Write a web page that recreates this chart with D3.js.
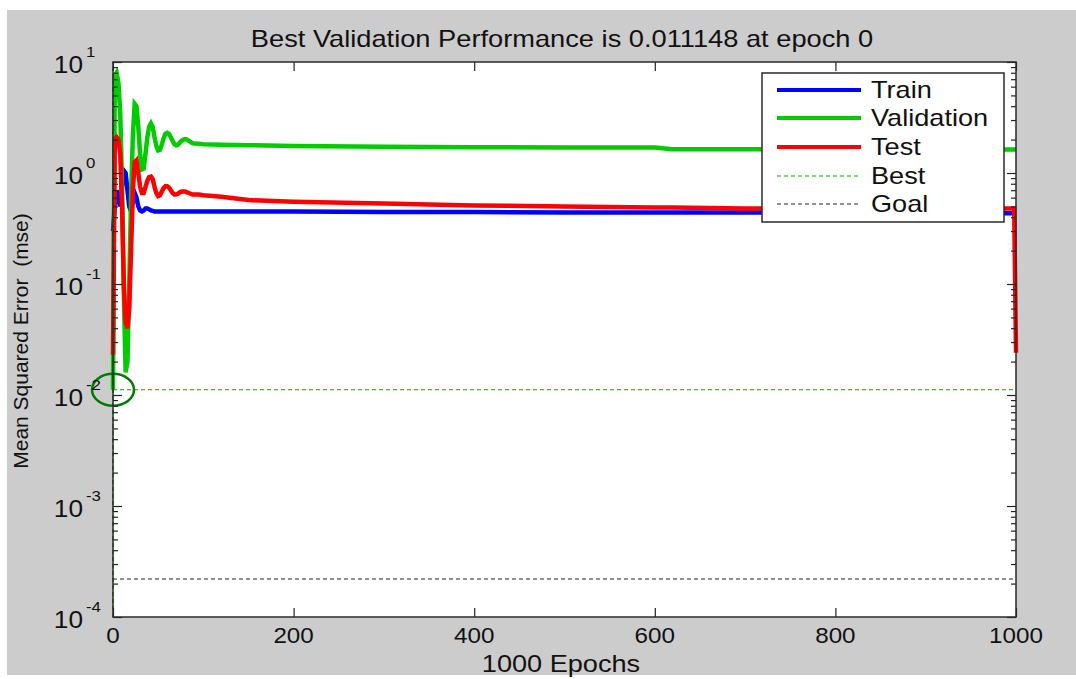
<html>
<head>
    <meta charset="utf-8">
    <script src="https://d3js.org/d3.v7.min.js"></script>
    <style>
        body { margin: 0; background: #ffffff; }
        text { font-family: "Liberation Sans", Arial, sans-serif; fill: #111; white-space: pre; }
        .tick line { stroke: #222; }
        .domain { stroke: none; }
    </style>
</head>
<body>
<svg id="chart" width="1076" height="679"></svg>
<script>
const epochs = [0, 2, 4, 6, 8, 10, 12, 14, 16, 18, 20, 22, 24, 26, 28, 30, 32, 34, 36, 38,
                40, 42, 44, 46, 48, 50, 52, 54, 56, 58, 60, 62, 64, 66, 68, 70, 72, 74, 76, 78,
                80, 82, 84, 86, 88, 90, 95, 100, 120, 150, 200, 300, 400, 500, 600, 620, 700,
                800, 900, 998, 999, 1000];

const trainMse = [0.3, 0.5, 0.7, 0.6, 0.5, 0.75, 1.05, 1.0, 0.7, 0.5, 0.45, 0.55, 0.66, 0.6, 0.5, 0.46, 0.45, 0.46, 0.48, 0.48,
                  0.47, 0.46, 0.455, 0.45, 0.45, 0.45, 0.45, 0.45, 0.45, 0.45, 0.45, 0.45, 0.45, 0.45, 0.45, 0.45, 0.45, 0.45, 0.45, 0.45,
                  0.45, 0.45, 0.45, 0.45, 0.45, 0.45, 0.45, 0.45, 0.45, 0.45, 0.45, 0.445, 0.445, 0.44, 0.44, 0.44, 0.44,
                  0.44, 0.435, 0.435, 0.435, 0.435];

const valMse = [0.011148, 7.5, 8.0, 6.5, 3.5, 0.8, 0.08, 0.016, 0.02, 0.1, 0.6, 2.2, 4.2, 4.0, 2.6, 1.5, 1.08, 1.1, 1.5, 2.1,
                2.6, 2.8, 2.6, 2.1, 1.75, 1.6, 1.62, 1.8, 2.05, 2.25, 2.3, 2.25, 2.1, 1.95, 1.82, 1.78, 1.8, 1.88, 1.95, 2.0,
                2.02, 2.0, 1.95, 1.9, 1.86, 1.84, 1.83, 1.82, 1.8, 1.78, 1.75, 1.72, 1.71, 1.7, 1.7, 1.64, 1.64,
                1.63, 1.63, 1.63, 1.63, 1.63];

const testMse = [0.023, 2.0, 2.1, 2.0, 1.5, 0.5, 0.1, 0.045, 0.04, 0.06, 0.2, 0.7, 1.25, 1.3, 1.0, 0.75, 0.66, 0.66, 0.75, 0.85,
                 0.92, 0.93, 0.88, 0.75, 0.66, 0.62, 0.63, 0.68, 0.73, 0.76, 0.76, 0.74, 0.7, 0.66, 0.64, 0.64, 0.65, 0.67, 0.68, 0.68,
                 0.68, 0.67, 0.66, 0.65, 0.64, 0.64, 0.64, 0.63, 0.61, 0.57, 0.55, 0.53, 0.51, 0.5, 0.49, 0.49, 0.48,
                 0.48, 0.48, 0.48, 0.11, 0.024];

const bestEpoch = 0;
const bestValue = 0.011148;
const goalValue = 0.00022;

const xTicks = [0, 200, 400, 600, 800, 1000];
const yExponents = [1, 0, -1, -2, -3, -4];
const legendNames = ["Train", "Validation", "Test", "Best", "Goal"];

const svg = d3.select("svg#chart");
const plot = {left: 113, right: 1016, top: 62, bottom: 617};

svg.append("rect")
   .attr("x", 7).attr("y", 10)
   .attr("width", 1069).attr("height", 665)
   .attr("fill", "#cccccc");

svg.append("rect")
   .attr("x", plot.left).attr("y", plot.top)
   .attr("width", plot.right - plot.left).attr("height", plot.bottom - plot.top)
   .attr("fill", "#ffffff");

const xScale = d3.scaleLinear().domain([0, 1000]).range([plot.left, plot.right]);
const yScale = d3.scaleLog().domain([1e-4, 10]).range([plot.bottom, plot.top]);

// curves
const series = [
    {values: trainMse, color: "#0000ff"},
    {values: valMse, color: "#00cc00"},
    {values: testMse, color: "#ff0000"}
];
const line = d3.line()
               .x(d => xScale(d[0]))
               .y(d => yScale(d[1]));

series.forEach(s => {
    svg.append("path")
       .datum(epochs.map((e, i) => [e, s.values[i]]))
       .attr("d", line)
       .attr("fill", "none")
       .attr("stroke", s.color)
       .attr("stroke-width", 4.5)
       .attr("stroke-linejoin", "miter");
});

// best and goal lines
svg.append("line")
   .attr("x1", xScale(0)).attr("x2", xScale(1000))
   .attr("y1", yScale(bestValue)).attr("y2", yScale(bestValue))
   .attr("stroke", "#00aa00").attr("stroke-width", 1.2)
   .attr("stroke-dasharray", "4,3");
svg.append("line")
   .attr("x1", xScale(bestEpoch)).attr("x2", xScale(bestEpoch))
   .attr("y1", yScale(1e-4)).attr("y2", yScale(10))
   .attr("stroke", "#00aa00").attr("stroke-width", 1.5)
   .attr("stroke-dasharray", "4,3");
svg.append("line")
   .attr("x1", xScale(0)).attr("x2", xScale(1000))
   .attr("y1", yScale(goalValue)).attr("y2", yScale(goalValue))
   .attr("stroke", "#222").attr("stroke-width", 1.2)
   .attr("stroke-dasharray", "4,3");

svg.append("ellipse")
   .attr("cx", xScale(bestEpoch)).attr("cy", yScale(bestValue))
   .attr("rx", 21).attr("ry", 16)
   .attr("fill", "none")
   .attr("stroke", "#007a00")
   .attr("stroke-width", 2.5);

// ticks, all pointing inwards
const majors = yExponents.map(e => Math.pow(10, e));
const minors = yScale.ticks().filter(v => Math.abs(Math.log10(v) - Math.round(Math.log10(v))) > 1e-6);

svg.append("g")
   .attr("transform", `translate(${plot.left},0)`)
   .call(d3.axisLeft(yScale).tickValues(majors).tickSize(-9).tickFormat(""));
svg.append("g")
   .attr("transform", `translate(${plot.left},0)`)
   .call(d3.axisLeft(yScale).tickValues(minors).tickSize(-5).tickFormat(""));
svg.append("g")
   .attr("transform", `translate(${plot.right},0)`)
   .call(d3.axisRight(yScale).tickValues(majors).tickSize(-9).tickFormat(""));
svg.append("g")
   .attr("transform", `translate(${plot.right},0)`)
   .call(d3.axisRight(yScale).tickValues(minors).tickSize(-5).tickFormat(""));
svg.append("g")
   .attr("transform", `translate(0,${plot.bottom})`)
   .call(d3.axisBottom(xScale).tickValues(xTicks).tickSize(-9).tickFormat(""));
svg.append("g")
   .attr("transform", `translate(0,${plot.top})`)
   .call(d3.axisTop(xScale).tickValues(xTicks).tickSize(-9).tickFormat(""));

svg.selectAll(".tick line").attr("stroke-width", 1.2);

svg.append("rect")
   .attr("x", plot.left).attr("y", plot.top)
   .attr("width", plot.right - plot.left).attr("height", plot.bottom - plot.top)
   .attr("fill", "none")
   .attr("stroke", "#2a2a2a")
   .attr("stroke-width", 1.5);

// tick labels
xTicks.forEach(t => {
    svg.append("text")
       .attr("transform", `translate(${xScale(t)},643) scale(1.1,1)`)
       .attr("text-anchor", "middle")
       .style("font-size", "22px")
       .text(t);
});

yExponents.forEach(e => {
    let yy = yScale(Math.pow(10, e));
    svg.append("text")
       .attr("transform", `translate(83,${yy + 11}) scale(1.14,1)`)
       .attr("text-anchor", "end")
       .style("font-size", "23px")
       .text("10");
    svg.append("text")
       .attr("transform", `translate(86,${yy - 5}) scale(1.12,1)`)
       .style("font-size", "15px")
       .text(e < 0 ? "-" + Math.abs(e) : e);
});

// titles
svg.append("text")
   .attr("transform", `translate(562,47) scale(1.185,1)`)
   .attr("text-anchor", "middle")
   .style("font-size", "23px")
   .text("Best Validation Performance is 0.011148 at epoch 0");

svg.append("text")
   .attr("transform", `translate(561,672) scale(1.18,1)`)
   .attr("text-anchor", "middle")
   .style("font-size", "23px")
   .text("1000 Epochs");

svg.append("text")
   .attr("transform", `translate(28,341) rotate(-90)`)
   .attr("text-anchor", "middle")
   .style("font-size", "21px")
   .text("Mean Squared Error  (mse)");

// legend
const legend = svg.append("g");
legend.append("rect")
      .attr("x", 762).attr("y", 73)
      .attr("width", 242).attr("height", 149)
      .attr("fill", "#ffffff")
      .attr("stroke", "#2a2a2a")
      .attr("stroke-width", 1.5);

const legendStyle = [
    {color: "#0000ff", width: 4, dash: null},
    {color: "#00cc00", width: 4, dash: null},
    {color: "#ff0000", width: 4, dash: null},
    {color: "#00aa00", width: 1.2, dash: "4,3"},
    {color: "#222", width: 1.2, dash: "4,3"}
];
const legendY = [90, 118, 147, 176, 204];

legendNames.forEach((name, i) => {
    legend.append("line")
          .attr("x1", 777).attr("x2", 861)
          .attr("y1", legendY[i]).attr("y2", legendY[i])
          .attr("stroke", legendStyle[i].color)
          .attr("stroke-width", legendStyle[i].width)
          .attr("stroke-dasharray", legendStyle[i].dash);
    legend.append("text")
          .attr("transform", `translate(871,${legendY[i] + 8}) scale(1.18,1)`)
          .style("font-size", "23px")
          .text(name);
});
</script>
</body>
</html>
